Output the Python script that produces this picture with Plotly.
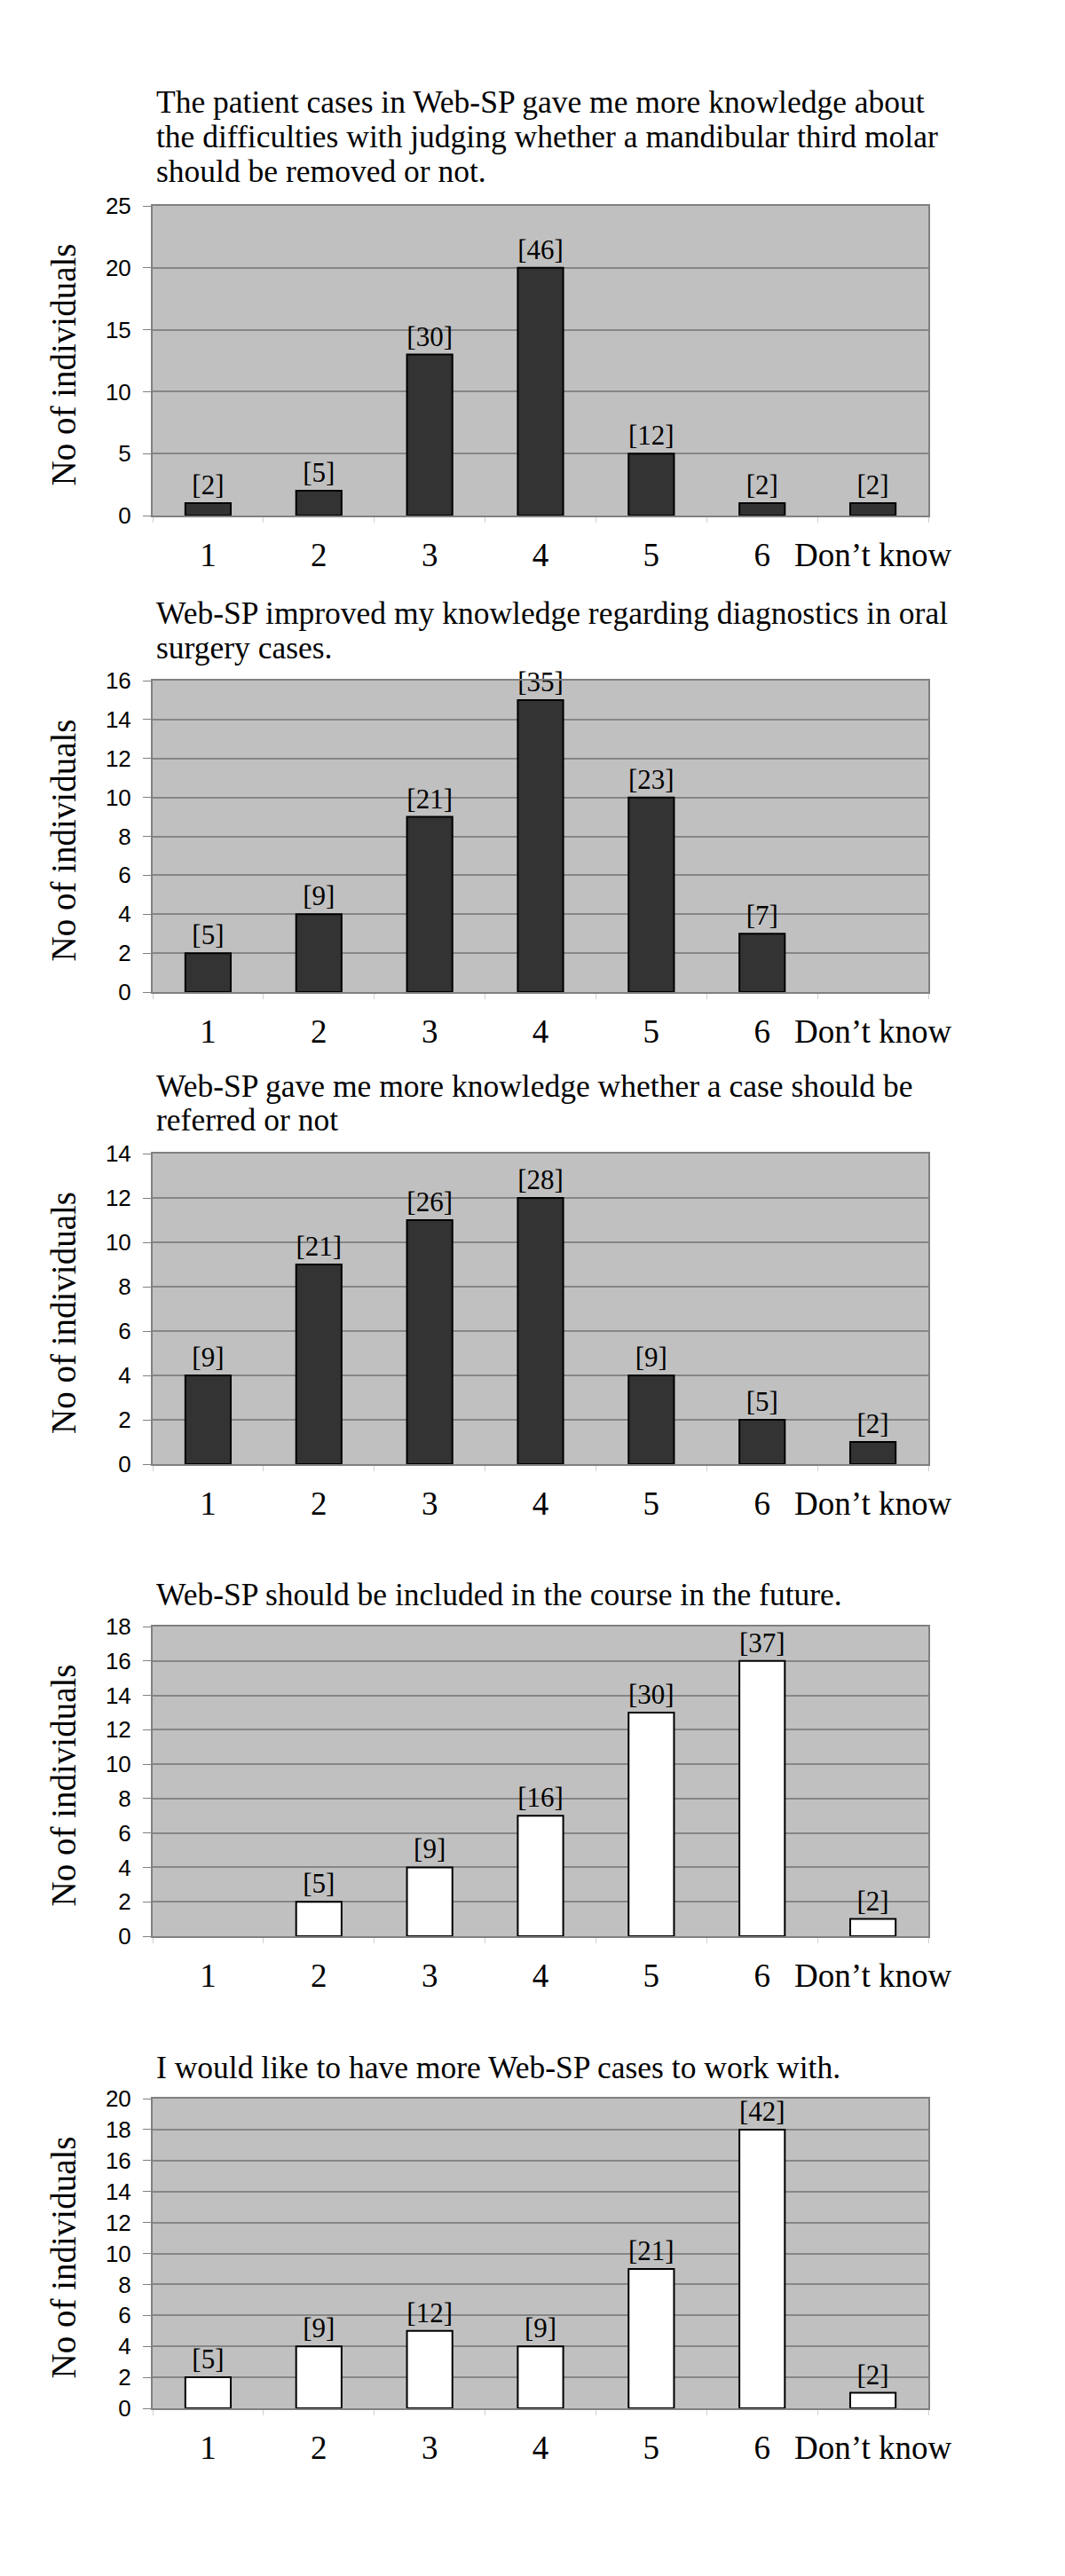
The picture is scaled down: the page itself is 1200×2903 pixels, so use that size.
import plotly.graph_objects as go

W, H = 1200, 2903

categories = ["1", "2", "3", "4", "5", "6", "Don\u2019t know"]

titles = [
    ["The patient cases in Web-SP gave me more knowledge about",
     "the difficulties with judging whether a mandibular third molar",
     "should be removed or not."],
    ["Web-SP improved my knowledge regarding diagnostics in oral",
     "surgery cases."],
    ["Web-SP gave me more knowledge whether a case should be",
     "referred or not"],
    ["Web-SP should be included in the course in the future."],
    ["I would like to have more Web-SP cases to work with."],
]

values_1 = [1, 2, 13, 20, 5, 1, 1]
values_2 = [2, 4, 9, 15, 10, 3, None]
values_3 = [4, 9, 11, 12, 4, 2, 1]
values_4 = [None, 2, 4, 7, 13, 16, 1]
values_5 = [2, 4, 5, 4, 9, 18, 1]

labels_1 = ["[2]", "[5]", "[30]", "[46]", "[12]", "[2]", "[2]"]
labels_2 = ["[5]", "[9]", "[21]", "[35]", "[23]", "[7]", ""]
labels_3 = ["[9]", "[21]", "[26]", "[28]", "[9]", "[5]", "[2]"]
labels_4 = ["", "[5]", "[9]", "[16]", "[30]", "[37]", "[2]"]
labels_5 = ["[5]", "[9]", "[12]", "[9]", "[21]", "[42]", "[2]"]

y_max = [25, 16, 14, 18, 20]
y_step = [5, 2, 2, 2, 2]

series = [values_1, values_2, values_3, values_4, values_5]
labels = [labels_1, labels_2, labels_3, labels_4, labels_5]
bar_fill = ["#333333", "#333333", "#333333", "#ffffff", "#ffffff"]

# layout (pixels)
plot_left, plot_right = 172, 1046
plot_tops = [232, 767, 1300, 1833, 2365]
plot_bottoms = [581, 1118, 1650, 2182, 2714]
title_baselines = [[127, 166, 205], [703, 742], [1236, 1274], [1809], [2342]]

SERIF = "Liberation Serif, Times New Roman, serif"
SANS = "Liberation Sans, Arial, sans-serif"

fig = go.Figure()
annotations = []
layout_axes = {}

for i in range(5):
    n = i + 1
    xa = "x" if n == 1 else f"x{n}"
    ya = "y" if n == 1 else f"y{n}"
    fig.add_trace(go.Bar(
        x=categories, y=series[i], text=labels[i],
        textposition="outside", cliponaxis=False, constraintext="none",
        textfont=dict(family=SERIF, size=31, color="black"),
        marker=dict(color=bar_fill[i], line=dict(color="black", width=2)),
        width=0.41, xaxis=xa, yaxis=ya, showlegend=False, hoverinfo="skip",
    ))
    xkey = "xaxis" if n == 1 else f"xaxis{n}"
    ykey = "yaxis" if n == 1 else f"yaxis{n}"
    layout_axes[xkey] = dict(
        domain=[plot_left / W, plot_right / W], anchor=ya,
        type="category", categoryorder="array", categoryarray=categories,
        range=[-0.5, 6.5], showgrid=False, automargin=False, tickangle=0,
        showline=True, mirror=True, linecolor="#808080", linewidth=2,
        ticks="outside", tickson="boundaries", ticklen=6, tickcolor="#d0d0d0",
        tickfont=dict(family=SERIF, size=37, color="black"),
        ticklabelstandoff=11, fixedrange=True,
    )
    layout_axes[ykey] = dict(
        domain=[1 - plot_bottoms[i] / H, 1 - plot_tops[i] / H], anchor=xa,
        range=[0, y_max[i]], dtick=y_step[i], tick0=0, automargin=False,
        showgrid=True, gridcolor="#868686", gridwidth=1.5,
        showline=True, mirror=True, linecolor="#808080", linewidth=2,
        ticks="outside", ticklen=9, tickcolor="#808080",
        tickfont=dict(family=SANS, size=26, color="black"),
        ticklabelstandoff=8, zeroline=False, fixedrange=True,
    )
    for line, base in zip(titles[i], title_baselines[i]):
        annotations.append(dict(
            text=line, xref="paper", yref="paper",
            x=174 / W, y=1 - (base - 12) / H,
            xanchor="left", yanchor="middle", showarrow=False,
            font=dict(family=SERIF, size=35.5, color="black"),
        ))
    annotations.append(dict(
        text="No of individuals", xref="paper", yref="paper",
        x=71 / W, y=1 - ((plot_tops[i] + plot_bottoms[i]) / 2 + 5) / H,
        xanchor="center", yanchor="middle", textangle=-90, showarrow=False,
        font=dict(family=SERIF, size=39, color="black"),
    ))

fig.update_layout(
    width=W, height=H, margin=dict(l=0, r=0, t=0, b=0),
    paper_bgcolor="white", plot_bgcolor="#c0c0c0",
    annotations=annotations, bargap=0.59, **layout_axes,
)

fig.write_html("out.html", config={"displayModeBar": False},
               post_script="document.body.style.margin='0px';")
